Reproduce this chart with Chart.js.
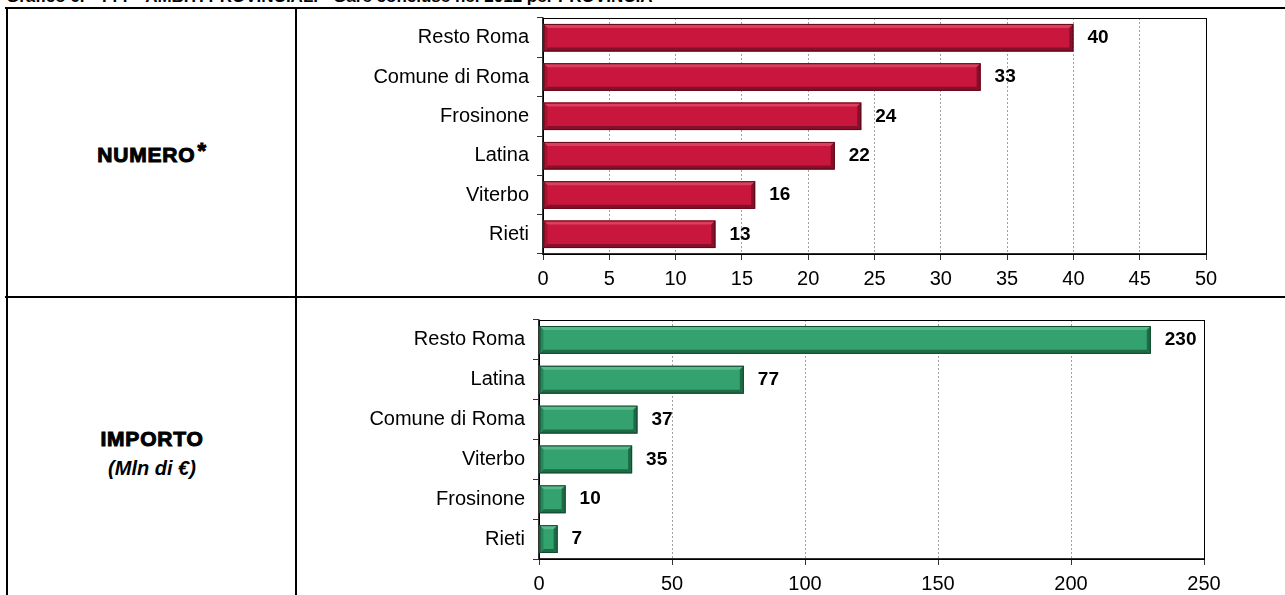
<!DOCTYPE html>
<html>
<head>
<meta charset="utf-8">
<script src="https://cdn.jsdelivr.net/npm/chart.js@4"></script>
<style>
  body { margin: 0; width: 1285px; height: 595px; overflow: hidden; background: #fff; position: relative;
         font-family: "Liberation Sans", Arial, sans-serif; }
  .title { position: absolute; left: 6px; top: -13px; font-weight: bold; font-size: 17px; white-space: nowrap; }
  .hl { position: absolute; height: 2px; background: #000; }
  .vl { position: absolute; width: 2px; background: #000; }
  .lab { position: absolute; left: 8px; width: 288px; text-align: center; color: #000; }
  .heavy { font-weight: bold; font-size: 21px; -webkit-text-stroke: 1px #000; letter-spacing: 0.8px; }
  .star { font-size: 22px; position: relative; top: -4px; margin-left: 2px; }
  .unit { display: block; margin-top: 6px; font-weight: bold; font-style: italic; font-size: 20px; }
  canvas { position: absolute; }
</style>
</head>
<body>
<div class="title">Grafico 6. - ??? - AMBITI PROVINCIALI - Gare concluse nel 2012 per PROVINCIA</div>

<div class="hl" style="left:5px; top:7px; width:1280px;"></div>
<div class="hl" style="left:5px; top:296px; width:1280px;"></div>
<div class="vl" style="left:6px; top:7px; height:588px;"></div>
<div class="vl" style="left:295px; top:7px; height:588px;"></div>

<div class="lab" style="top:142px;"><span class="heavy">NUMERO</span><span class="heavy star">*</span></div>
<div class="lab" style="top:427px;"><span class="heavy">IMPORTO</span><span class="unit">(Mln di €)</span></div>

<canvas id="numChart" width="985" height="297" style="left:300px; top:-2px;"></canvas>
<canvas id="impChart" width="985" height="295" style="left:300px; top:300px;"></canvas>

<script>
// Numero di gare per provincia
const numLabels = ['Resto Roma', 'Comune di Roma', 'Frosinone', 'Latina', 'Viterbo', 'Rieti'];
const numValues = [40, 33, 24, 22, 16, 13];
const numTicks  = [0, 5, 10, 15, 20, 25, 30, 35, 40, 45, 50];

// Importo (Mln di euro) per provincia
const impLabels = ['Resto Roma', 'Latina', 'Comune di Roma', 'Viterbo', 'Frosinone', 'Rieti'];
const impValues = [230, 77, 37, 35, 10, 7];
const impTicks  = [0, 50, 100, 150, 200, 250];

const FONT = '"Liberation Sans", Arial, sans-serif';

function poly(ctx, pts, color) {
    ctx.beginPath();
    ctx.moveTo(pts[0][0], pts[0][1]);
    for (let i = 1; i < pts.length; i++) ctx.lineTo(pts[i][0], pts[i][1]);
    ctx.closePath();
    ctx.fillStyle = color;
    ctx.fill();
}

// bevel edges on bars + value labels + plot box
const bevel = {
    id: 'bevel',
    beforeDatasetsDraw(chart) {
        const a = chart.chartArea, ctx = chart.ctx;
        ctx.save();
        ctx.strokeStyle = '#000';
        ctx.lineWidth = 1;
        ctx.strokeRect(Math.round(a.left) + 0.5, Math.round(a.top) + 0.5,
                       Math.round(a.right - a.left), Math.round(a.bottom - a.top));
        ctx.restore();
    },
    afterDatasetsDraw(chart, args, o) {
        const ctx = chart.ctx;
        const data = chart.data.datasets[0].data;
        chart.getDatasetMeta(0).data.forEach((bar, i) => {
            const x0 = bar.base, x1 = bar.x;
            const y0 = bar.y - bar.height / 2, y1 = bar.y + bar.height / 2;
            const b = Math.min(4, (x1 - x0) / 3);
            ctx.save();
            poly(ctx, [[x0, y0], [x1, y0], [x1 - b, y0 + b], [x0 + b, y0 + b]], o.light);
            poly(ctx, [[x0, y1], [x1, y1], [x1 - b, y1 - b], [x0 + b, y1 - b]], o.dark);
            poly(ctx, [[x0, y0], [x0 + b, y0 + b], [x0 + b, y1 - b], [x0, y1]], o.side);
            poly(ctx, [[x1, y0], [x1 - b, y0 + b], [x1 - b, y1 - b], [x1, y1]], o.dark);
            ctx.strokeStyle = o.edge;
            ctx.lineWidth = 1;
            ctx.strokeRect(x0 + 0.5, y0 + 0.5, x1 - x0 - 1, y1 - y0 - 1);
            ctx.fillStyle = '#000';
            ctx.font = 'bold 19px ' + FONT;
            ctx.textBaseline = 'middle';
            ctx.fillText(String(data[i]), x1 + 14, bar.y);
            ctx.restore();
        });
    }
};

function makeChart(id, labels, values, ticks, face, bev, yWidth, xHeight, pad) {
    new Chart(document.getElementById(id), {
        type: 'bar',
        data: {
            labels: labels,
            datasets: [{
                data: values,
                backgroundColor: face,
                borderWidth: 0,
                categoryPercentage: 1,
                barPercentage: 0.7
            }]
        },
        options: {
            indexAxis: 'y',
            responsive: false,
            animation: false,
            devicePixelRatio: 1,
            layout: { padding: pad },
            plugins: {
                legend: { display: false },
                tooltip: { enabled: false },
                bevel: bev
            },
            scales: {
                x: {
                    min: ticks[0], max: ticks[ticks.length - 1],
                    afterBuildTicks: s => { s.ticks = ticks.map(v => ({ value: v })); },
                    afterFit: s => { s.height = xHeight; },
                    grid: { color: '#a0a0a0', tickColor: '#333', tickLength: 6, tickBorderDash: [] },
                    border: { color: '#333', width: 1.5, dash: [2, 2] },
                    ticks: { color: '#000', padding: 7, maxRotation: 0, font: { family: FONT, size: 20 } }
                },
                y: {
                    afterFit: s => { s.width = yWidth; },
                    grid: { offset: true, drawOnChartArea: false, color: '#333', tickLength: 6 },
                    border: { color: '#333', width: 1.5 },
                    ticks: { color: '#000', padding: 8, font: { family: FONT, size: 20 } }
                }
            }
        },
        plugins: [bevel]
    });
}

makeChart('numChart', numLabels, numValues, numTicks, '#c8163c',
    { light: '#d9405e', dark: '#86102a', side: '#a9122f', edge: '#5e0818' },
    243, 41, { top: 8, right: 79, left: 0, bottom: 0 });

makeChart('impChart', impLabels, impValues, impTicks, '#34a26e',
    { light: '#58b98a', dark: '#1d6a45', side: '#28875a', edge: '#124a2e' },
    239, 36, { top: 19, right: 81, left: 0, bottom: 0 });
</script>
</body>
</html>
